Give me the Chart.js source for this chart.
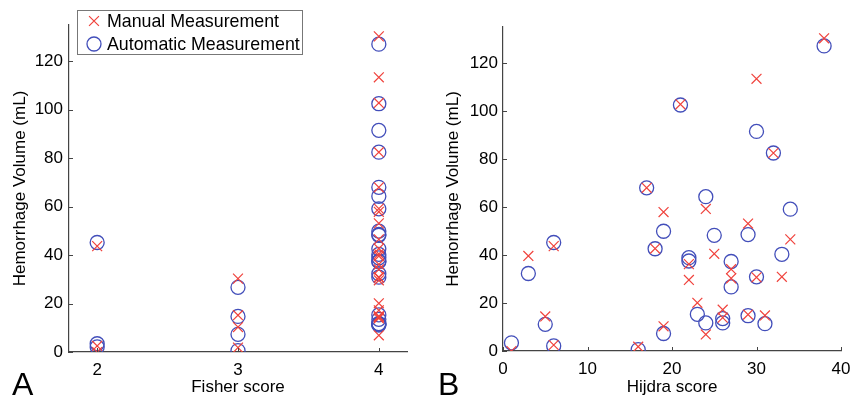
<!DOCTYPE html>
<html>
<head>
<meta charset="utf-8">
<script src="https://cdn.jsdelivr.net/npm/chart.js@4.4.1/dist/chart.umd.min.js"></script>
<style>
  html, body { margin: 0; padding: 0; background: #fff; }
  #wrapA { position: absolute; left: 0; top: 0; width: 426px; height: 402px; }
  #wrapB { position: absolute; left: 426px; top: 0; width: 425px; height: 402px; }
</style>
</head>
<body>
<div id="wrapA"><canvas id="chartA" width="426" height="402"></canvas></div>
<div id="wrapB"><canvas id="chartB" width="425" height="402"></canvas></div>
<script>
// one entry per patient
var hijdraScore = [1, 3, 5, 6, 6, 16, 17, 18, 19, 19, 21, 22, 22, 23, 24, 24, 25, 26, 26, 27, 27, 29, 29, 30, 30, 31, 32, 33, 34, 38];
var fisherScore = [2, 4, 4, 2, 2, 3, 4, 4, 4, 3, 4, 4, 4, 4, 4, 4, 4, 4, 4, 4, 3, 4, 3, 4, 4, 4, 4, 4, 4, 4];
var manualVolume = [0.0, 39.6, 14.4, 43.7, 2.5, 1.8, 68.0, 42.7, 57.9, 10.3, 102.8, 36.2, 29.6, 20.1, 59.2, 6.9, 40.5, 17.2, 13.9, 34.1, 30.3, 53.1, 15.2, 113.4, 30.7, 14.8, 82.5, 30.9, 46.5, 130.3];
var autoVolume = [3.4, 32.3, 11.1, 45.2, 2.1, 0.6, 68.0, 42.6, 49.9, 7.3, 102.5, 38.9, 37.5, 15.3, 64.3, 11.7, 48.2, 13.5, 11.7, 37.3, 26.7, 48.5, 14.7, 91.5, 30.9, 11.4, 82.5, 40.3, 59.1, 127.1];

var fisherTicks = [2, 3, 4];
var hijdraTicks = [0, 10, 20, 30, 40];
var volumeTicks = [0, 20, 40, 60, 80, 100, 120];

var seriesNames = ['Manual Measurement', 'Automatic Measurement'];

var FONT = '"Liberation Sans", Arial, Helvetica, sans-serif';
var RED = 'rgb(240, 66, 60)';
var BLUE = 'rgb(66, 78, 186)';

function points(xs, ys) {
    return xs.map(function (x, i) { return {x: x, y: ys[i]}; });
}

function fixTicks(list) {
    return function (scale) {
        scale.ticks = list.map(function (v) { return {value: v}; });
    };
}

// MATLAB style ticks pointing into the plot
var inwardTicks = {
    id: 'inwardTicks',
    afterDraw: function (chart) {
        var ctx = chart.ctx, area = chart.chartArea;
        ctx.save();
        ctx.strokeStyle = '#444';
        ctx.lineWidth = 1;
        chart.scales.x.ticks.forEach(function (t) {
            var px = Math.round(chart.scales.x.getPixelForValue(t.value)) + 0.5;
            ctx.beginPath();
            ctx.moveTo(px, area.bottom);
            ctx.lineTo(px, area.bottom - 4);
            ctx.stroke();
        });
        chart.scales.y.ticks.forEach(function (t) {
            var py = Math.round(chart.scales.y.getPixelForValue(t.value)) + 0.5;
            ctx.beginPath();
            ctx.moveTo(area.left, py);
            ctx.lineTo(area.left + 4, py);
            ctx.stroke();
        });
        ctx.restore();
    }
};

var panelLabel = {
    id: 'panelLabel',
    afterDraw: function (chart, args, opts) {
        var ctx = chart.ctx;
        ctx.save();
        ctx.fillStyle = '#000';
        ctx.font = '32px ' + FONT;
        ctx.textBaseline = 'alphabetic';
        ctx.fillText(opts.text, opts.x, 395);
        ctx.restore();
    }
};

var boxLegend = {
    id: 'boxLegend',
    afterDraw: function (chart, args, opts) {
        if (!opts.show) return;
        var ctx = chart.ctx;
        ctx.save();
        ctx.fillStyle = '#fff';
        ctx.fillRect(77, 10, 225, 44);
        ctx.strokeStyle = '#777';
        ctx.lineWidth = 1;
        ctx.strokeRect(77.5, 10.5, 225, 44);
        ctx.font = '17.8px ' + FONT;
        ctx.textBaseline = 'middle';
        chart.data.datasets.forEach(function (ds, i) {
            var y = 21 + i * 23;
            ctx.strokeStyle = ds.borderColor;
            ctx.fillStyle = 'rgba(0,0,0,0)';
            ctx.lineWidth = ds.borderWidth;
            Chart.helpers.drawPoint(ctx, {pointStyle: ds.pointStyle, radius: ds.pointRadius, rotation: 0, borderWidth: ds.borderWidth}, 94, y);
            ctx.fillStyle = '#000';
            ctx.fillText(ds.label, 107, y + 1);
        });
        ctx.restore();
    }
};

function makeChart(id, xs, xMin, xMax, xTickList, xTitle, opt) {
    return new Chart(document.getElementById(id).getContext('2d'), {
        type: 'scatter',
        data: {
            datasets: [{
                label: seriesNames[0],
                data: points(xs, manualVolume),
                pointStyle: 'crossRot',
                pointRadius: 7,
                borderColor: RED,
                backgroundColor: RED,
                borderWidth: 1.2
            }, {
                label: seriesNames[1],
                data: points(xs, autoVolume),
                pointStyle: 'circle',
                pointRadius: 7,
                borderColor: BLUE,
                backgroundColor: 'rgba(0,0,0,0)',
                borderWidth: 1.3
            }]
        },
        options: {
            responsive: false,
            animation: false,
            layout: { padding: { top: opt.top, right: opt.right, left: 0, bottom: 0 } },
            plugins: {
                legend: { display: false },
                tooltip: { enabled: false },
                panelLabel: { text: opt.label, x: 12 },
                boxLegend: { show: opt.legend }
            },
            scales: {
                x: {
                    type: 'linear',
                    min: xMin,
                    max: xMax,
                    afterBuildTicks: fixTicks(xTickList),
                    afterFit: function (s) {
                        s.height = 402 - opt.bottom;
                        s.paddingLeft = 0;
                        s.paddingRight = 0;
                    },
                    grid: { display: false, drawTicks: false },
                    border: { display: true, color: '#444', width: 1.2 },
                    ticks: { color: '#000', font: { family: FONT, size: 17 }, padding: 8, maxRotation: 0 },
                    title: { display: true, text: xTitle, color: '#000', font: { family: FONT, size: 17 }, padding: { top: 0, bottom: 4 } }
                },
                y: {
                    type: 'linear',
                    min: 0,
                    max: 135,
                    afterBuildTicks: fixTicks(volumeTicks),
                    afterFit: function (s) {
                        s.width = opt.left;
                        s.paddingTop = 0;
                        s.paddingBottom = 0;
                    },
                    grid: { display: false, drawTicks: false },
                    border: { display: true, color: '#444', width: 1.2 },
                    ticks: { color: '#000', font: { family: FONT, size: 17 }, padding: opt.tickPad },
                    title: { display: true, text: 'Hemorrhage Volume (mL)', color: '#000', font: { family: FONT, size: 17 }, padding: { top: opt.titlePad, bottom: 0 } }
                }
            }
        },
        plugins: [inwardTicks, panelLabel, boxLegend]
    });
}

makeChart('chartA', fisherScore, 1.8, 4.2, fisherTicks, 'Fisher score',
    { top: 25, right: 19, bottom: 352, left: 69, tickPad: 6, titlePad: 10, label: 'A', legend: true });
makeChart('chartB', hijdraScore, 0, 40, hijdraTicks, 'Hijdra score',
    { top: 27, right: 10, bottom: 351, left: 77, tickPad: 5, titlePad: 17, label: 'B', legend: false });
</script>
</body>
</html>
